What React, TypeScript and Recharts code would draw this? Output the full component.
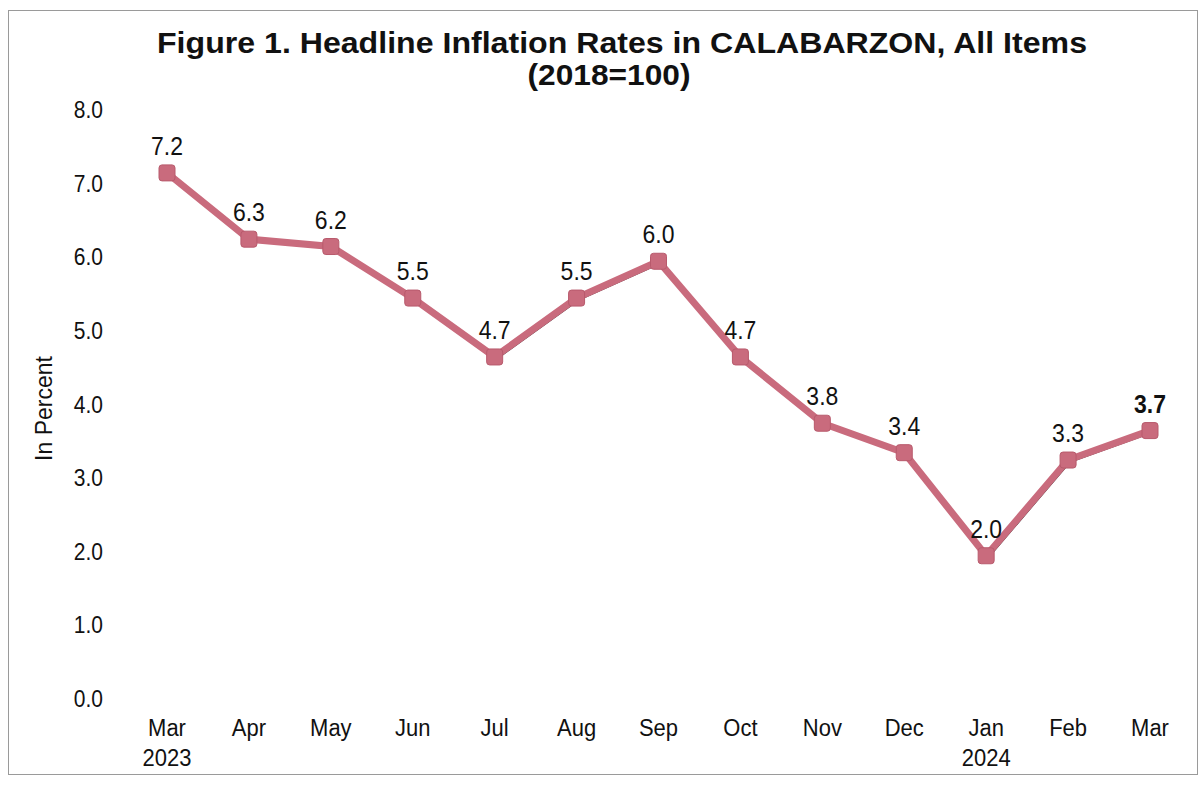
import React from 'react';
import { LineChart, Line, XAxis, YAxis, LabelList } from 'recharts';

const months = ['Mar', 'Apr', 'May', 'Jun', 'Jul', 'Aug', 'Sep', 'Oct', 'Nov', 'Dec', 'Jan', 'Feb', 'Mar'];
const years = ['2023', '', '', '', '', '', '', '', '', '', '2024', '', ''];
const rates = [7.2, 6.3, 6.2, 5.5, 4.7, 5.5, 6.0, 4.7, 3.8, 3.4, 2.0, 3.3, 3.7];
const yTicks = [0, 1, 2, 3, 4, 5, 6, 7, 8];

const data = months.map((m, i) => ({ key: String(i), month: m, year: years[i], rate: rates[i] }));

const FONT = "'Liberation Sans', Arial, sans-serif";
const LINE_COLOR = '#c96b7d';
const SY = 1.12;

const SquareDot = (props: any) => {
  const { cx, cy } = props;
  if (cx == null || cy == null) return null;
  const s = 16;
  return <rect x={cx - s / 2} y={cy - s / 2} width={s} height={s} rx={3} fill={LINE_COLOR} stroke="#b85a6c" strokeWidth={1} />;
};

const Txt = ({ x, y, children, size = 21, weight = 'normal', anchor = 'middle' }: any) => (
  <text transform={`translate(${x},${y}) scale(1,${SY})`} x={0} y={0} textAnchor={anchor} fontFamily={FONT} fontSize={size} fontWeight={weight} fill="#111">
    {children}
  </text>
);

const XTick = (props: any) => {
  const { x, y, payload } = props;
  const d = data[payload.index] || data.find((r) => r.key === payload.value);
  return (
    <g>
      <Txt x={x} y={y + 25} size={22}>{d ? d.month : ''}</Txt>
      {d && d.year ? <Txt x={x} y={y + 55} size={22}>{d.year}</Txt> : null}
    </g>
  );
};

const YTick = (props: any) => {
  const { x, y, payload } = props;
  return (
    <Txt x={x} y={y + 4} size={21} anchor="end">
      {Number(payload.value).toFixed(1)}
    </Txt>
  );
};

const ValueLabel = (props: any) => {
  const { x, y, value, index } = props;
  const last = index === rates.length - 1;
  return (
    <Txt x={x} y={y - 18} size={23} weight={last ? 'bold' : 'normal'}>
      {Number(value).toFixed(1)}
    </Txt>
  );
};

export default function App() {
  return (
    <div style={{ position: 'absolute', left: 0, top: 0, width: 1204, height: 785, background: '#fff' }}>
      <div style={{ position: 'absolute', left: 8, top: 10, width: 1190, height: 765, border: '1px solid #9a9a9a', boxSizing: 'border-box' }} />
      <svg style={{ position: 'absolute', left: 0, top: 0 }} width={1204} height={100}>
        <g transform="translate(622,53) scale(1,1.12)">
          <text x={0} y={0} textAnchor="middle" fontFamily={FONT} fontWeight="bold" fontSize={27} fill="#111" textLength={930} lengthAdjust="spacingAndGlyphs">
            Figure 1. Headline Inflation Rates in CALABARZON, All Items
          </text>
        </g>
        <g transform="translate(609,85) scale(1,1.12)">
          <text x={0} y={0} textAnchor="middle" fontFamily={FONT} fontWeight="bold" fontSize={27} fill="#111" textLength={163} lengthAdjust="spacingAndGlyphs">
            (2018=100)
          </text>
        </g>
      </svg>
      <div style={{ position: 'absolute', left: 0, top: 0 }}>
        <LineChart width={1204} height={785} data={data} margin={{ top: 114, right: 54, bottom: 0, left: 40 }}>
          <XAxis dataKey="key" axisLine={false} tickLine={false} tick={<XTick />} interval={0} height={82} />
          <YAxis
            domain={[0, 8]}
            ticks={yTicks}
            axisLine={false}
            tickLine={false}
            tickSize={0}
            tickMargin={64}
            width={127}
            tick={<YTick />}
            label={{ value: 'In Percent', angle: -90, position: 'insideLeft', offset: 4, style: { fontFamily: FONT, fontSize: 23, fill: '#111', textAnchor: 'middle' } }}
          />
          <Line dataKey="rate" stroke="#222" strokeWidth={1.5} dot={false} isAnimationActive={false} transform="translate(2,2)" />
          <Line dataKey="rate" stroke={LINE_COLOR} strokeWidth={7} dot={<SquareDot />} isAnimationActive={false}>
            <LabelList dataKey="rate" content={<ValueLabel />} />
          </Line>
        </LineChart>
      </div>
    </div>
  );
}
